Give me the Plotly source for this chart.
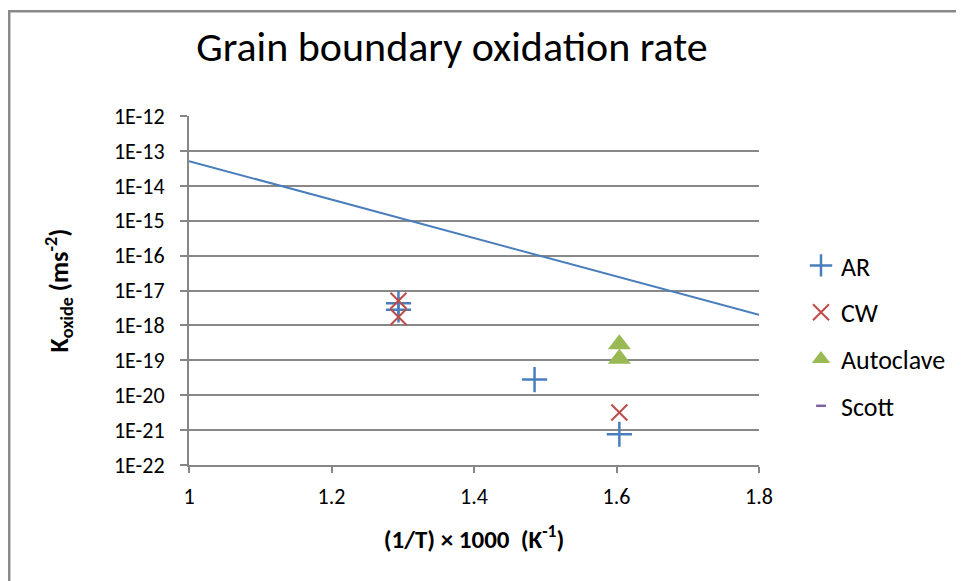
import plotly.graph_objects as go

# ---- data ----
ar_x = [1.294, 1.294, 1.485, 1.604]
ar_y = [4.3e-18, 2.8e-18, 2.8e-20, 7.6e-22]
cw_x = [1.294, 1.294, 1.604]
cw_y = [5.1e-18, 1.75e-18, 3.2e-21]
auto_x = [1.604, 1.604]
auto_y = [2.9e-19, 1.1e-19]
scott_x = [None]
scott_y = [None]
line_x = [1.0, 1.8]
line_y = [5.1e-14, 2.0e-18]
x_ticks = [1.0, 1.2, 1.4, 1.6, 1.8]
x_ticktext = ["1", "1.2", "1.4", "1.6", "1.8"]
y_ticks = [1e-12, 1e-13, 1e-14, 1e-15, 1e-16, 1e-17, 1e-18, 1e-19, 1e-20, 1e-21, 1e-22]
y_ticktext = ["1E-12", "1E-13", "1E-14", "1E-15", "1E-16", "1E-17", "1E-18",
              "1E-19", "1E-20", "1E-21", "1E-22"]

FONT = "Carlito, Calibri, Lato, sans-serif"
W, H = 964, 581
L, R, T, B = 181, 751, 108, 457  # plot area in figure pixels

fig = go.Figure()
fig.add_trace(go.Scatter(x=line_x, y=line_y, mode="lines",
                         line=dict(color="#4a7ebb", width=2), showlegend=False,
                         hoverinfo="skip"))
fig.add_trace(go.Scatter(x=ar_x, y=ar_y, mode="markers", name="AR", legendgroup="a",
                         marker=dict(symbol="cross-thin", size=18,
                                     line=dict(color="#4a7ebb", width=2.5))))
fig.add_trace(go.Scatter(x=cw_x, y=cw_y, mode="markers", name="CW", legendgroup="b",
                         marker=dict(symbol="x-thin", size=16,
                                     line=dict(color="#be4b48", width=2))))
fig.add_trace(go.Scatter(x=auto_x, y=auto_y, mode="markers", name="Autoclave", legendgroup="c",
                         marker=dict(symbol="triangle-up", size=20, color="#98b954")))
fig.add_trace(go.Scatter(x=scott_x, y=scott_y, mode="markers", name="Scott", legendgroup="d",
                         marker=dict(symbol="line-ew", size=7, color="#7d60a0",
                                     line=dict(color="#7d60a0", width=2.5))))

def px_x(p):
    return (p - L) / (R - L)

def px_y(p):
    return (B - p) / (B - T)

fig.update_layout(
    width=W, height=H,
    margin=dict(l=L, r=W - R, t=T, b=H - B),
    paper_bgcolor="white", plot_bgcolor="white",
    font=dict(family=FONT, size=22, color="black"),
    title=dict(text="Grain boundary oxidation rate", font=dict(size=42, family=FONT),
               x=444 / W, xanchor="center", xref="container",
               y=1 - 38 / H, yanchor="middle", yref="container"),
    xaxis=dict(range=[1.0, 1.8], tickvals=x_ticks, ticktext=x_ticktext,
               showgrid=False, zeroline=False, showline=True, linecolor="#868686",
               linewidth=2, ticks="outside", ticklen=6, tickcolor="#868686", tickwidth=2,
               tickfont=dict(size=22), ticklabelstandoff=5,
               title=dict(text="<b>(1/T) × 1000  (K<sup>-1</sup>)</b>", font=dict(size=25),
                          standoff=21)),
    yaxis=dict(type="log", range=[-22, -12], tickvals=y_ticks, ticktext=y_ticktext,
               showgrid=True, gridcolor="#888888", gridwidth=2,
               zeroline=False, showline=True, linecolor="#868686", linewidth=2,
               ticks="outside", ticklen=7, tickcolor="#868686", tickwidth=2,
               tickfont=dict(size=22), ticklabelstandoff=11,
               title=dict(text="<b>K<sub>oxide</sub> (ms<sup>-2</sup>)</b>", font=dict(size=26),
                          standoff=38)),
    legend=dict(x=px_x(793), y=px_y(234), xanchor="left", yanchor="top",
                font=dict(size=26), traceorder="grouped", tracegroupgap=10,
                itemwidth=30, bgcolor="rgba(0,0,0,0)"),
    shapes=[dict(type="rect", xref="paper", yref="paper",
                 x0=px_x(1.2), x1=px_x(1000), y0=px_y(620), y1=px_y(3.2),
                 line=dict(color="#898989", width=2.5), layer="below")],
)

fig.write_html("out.html")
